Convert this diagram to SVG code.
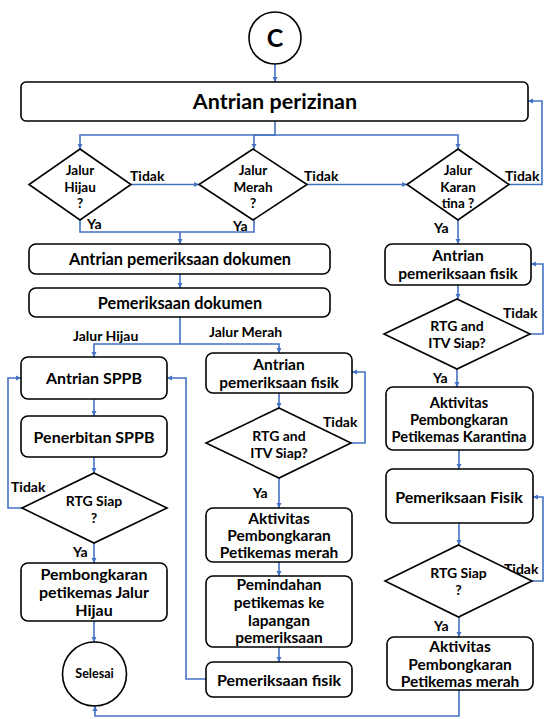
<svg xmlns="http://www.w3.org/2000/svg" width="544" height="719" viewBox="0 0 544 719">
<defs>
<marker id="ah" markerUnits="userSpaceOnUse" markerWidth="6" markerHeight="6" refX="5" refY="3" orient="auto">
<path d="M0,0.5 L5,3 L0,5.5 Z" fill="#4472C4"/>
</marker>
<style>
.n{fill:#fff;stroke:#000;stroke-width:1.6}
.t{font-family:Lato,"Liberation Sans",sans-serif;font-weight:bold;fill:#000;text-anchor:middle}
.l{font-family:Lato,"Liberation Sans",sans-serif;font-weight:bold;fill:#000;font-size:14px}
.c{fill:none;stroke:#4472C4;stroke-width:1.6;marker-end:url(#ah)}
.c2{fill:none;stroke:#4472C4;stroke-width:1.6}
</style>
</defs>
<rect width="544" height="719" fill="#fff"/>

<g id="connectors">
<path class="c" d="M275,64 V82"/>
<path class="c" d="M275,121 V135 H80 V149"/>
<path class="c" d="M275,135 H254 V149"/>
<path class="c" d="M275,135 H458 V149"/>
<path class="c" d="M131,184.5 H199"/>
<path class="c" d="M307,184.5 H407"/>
<path class="c" d="M509,184.5 H542 V101 H528"/>
<path class="c" d="M80,220 V232 H180 V244"/>
<path class="c2" d="M254,220 V232 H180"/>
<path class="c" d="M458,220 V244"/>
<path class="c" d="M180,274 V288"/>
<path class="c" d="M180,317 V344 H94 V357"/>
<path class="c" d="M180,344 H279 V353"/>
<path class="c" d="M458,285 V299"/>
<path class="c" d="M530,334 H543 V264 H531"/>
<path class="c" d="M457,369 V387"/>
<path class="c" d="M459,450 V469"/>
<path class="c" d="M459,523 V545"/>
<path class="c" d="M532,581 H543 V497 H533"/>
<path class="c" d="M459,617 V637"/>
<path class="c" d="M459,690 V716 H95 V706"/>
<path class="c" d="M279,393 V408"/>
<path class="c" d="M351,443 H365 V372 H352"/>
<path class="c" d="M279,478 V508"/>
<path class="c" d="M279,562 V576"/>
<path class="c" d="M279,647 V662"/>
<path class="c" d="M206,679 H186 V378 H167"/>
<path class="c" d="M94,399 V416"/>
<path class="c" d="M94,457 V473"/>
<path class="c" d="M22,508 H8 V378 H21"/>
<path class="c" d="M94,543 V563"/>
<path class="c" d="M94,621 V642"/>
<text class="l" x="130" y="181">Tidak</text>
<text class="l" x="304" y="181">Tidak</text>
<text class="l" x="505" y="181">Tidak</text>
<text class="l" x="87" y="229">Ya</text>
<text class="l" x="233" y="231">Ya</text>
<text class="l" x="434" y="233">Ya</text>
<text class="l" x="73" y="341">Jalur Hijau</text>
<text class="l" x="209" y="337">Jalur Merah</text>
<text class="l" x="503" y="318">Tidak</text>
<text class="l" x="433" y="383">Ya</text>
<text class="l" x="504" y="574">Tidak</text>
<text class="l" x="434" y="631">Ya</text>
<text class="l" x="323" y="427">Tidak</text>
<text class="l" x="253" y="498">Ya</text>
<text class="l" x="11" y="492">Tidak</text>
<text class="l" x="73" y="557">Ya</text>
</g>

<g id="start">
<circle class="n" cx="275" cy="38" r="26"/>
<text class="t" x="275" y="47" font-size="25">C</text>
</g>
<g id="antrian-perizinan">
<rect class="n" x="21" y="82" width="507" height="39" rx="5"/>
<text class="t" x="275" y="109" font-size="21.5">Antrian perizinan</text>
</g>
<g id="jalur-hijau">
<polygon class="n" points="80,149 131,184.5 80,220 29,184.5"/>
<text class="t" x="80" y="175" font-size="13.5">Jalur</text>
<text class="t" x="80" y="191.5" font-size="13.5">Hijau</text>
<text class="t" x="80" y="208" font-size="13.5">?</text>
</g>
<g id="jalur-merah">
<polygon class="n" points="253,149 307,184.5 253,220 199,184.5"/>
<text class="t" x="253" y="175" font-size="13.5">Jalur</text>
<text class="t" x="253" y="191.5" font-size="13.5">Merah</text>
<text class="t" x="253" y="208" font-size="13.5">?</text>
</g>
<g id="jalur-karantina">
<polygon class="n" points="458,149 509,184.5 458,220 407,184.5"/>
<text class="t" x="458" y="175" font-size="13.5">Jalur</text>
<text class="t" x="458" y="191.5" font-size="13.5">Karan</text>
<text class="t" x="458" y="208" font-size="13.5">tina ?</text>
</g>
<g id="antrian-dokumen">
<rect class="n" x="29" y="244" width="301" height="30" rx="7"/>
<text class="t" x="180" y="264.5" font-size="16.3">Antrian pemeriksaan dokumen</text>
</g>
<g id="pemeriksaan-dokumen">
<rect class="n" x="29" y="288" width="301" height="29" rx="7"/>
<text class="t" x="180" y="308.5" font-size="16.3">Pemeriksaan dokumen</text>
</g>

<g id="antrian-fisik-kanan">
<rect class="n" x="385" y="244" width="146" height="41" rx="7"/>
<text class="t" x="458" y="261" font-size="15.5">Antrian</text>
<text class="t" x="458" y="279" font-size="15.5">pemeriksaan fisik</text>
</g>
<g id="rtg-itv-kanan">
<polygon class="n" points="457,299 530,334 457,369 384,334"/>
<text class="t" x="457" y="331" font-size="14">RTG and</text>
<text class="t" x="457" y="348" font-size="14">ITV Siap?</text>
</g>
<g id="aktivitas-karantina">
<rect class="n" x="386" y="387" width="147" height="63" rx="7"/>
<text class="t" x="459" y="408" font-size="14.7">Aktivitas</text>
<text class="t" x="459" y="425" font-size="14.7">Pembongkaran</text>
<text class="t" x="459" y="442" font-size="14.7">Petikemas Karantina</text>
</g>
<g id="pemeriksaan-fisik-kanan">
<rect class="n" x="386" y="469" width="147" height="54" rx="7"/>
<text class="t" x="459" y="502.5" font-size="16">Pemeriksaan Fisik</text>
</g>
<g id="rtg-siap-kanan">
<polygon class="n" points="458.5,545 532,581 458.5,617 385,581"/>
<text class="t" x="458.5" y="578" font-size="14">RTG Siap</text>
<text class="t" x="458.5" y="595" font-size="14">?</text>
</g>
<g id="aktivitas-merah-kanan">
<rect class="n" x="387" y="637" width="146" height="53" rx="7"/>
<text class="t" x="460" y="652" font-size="15.5">Aktivitas</text>
<text class="t" x="460" y="670" font-size="15.5">Pembongkaran</text>
<text class="t" x="460" y="687" font-size="15.5">Petikemas merah</text>
</g>

<g id="antrian-fisik-tengah">
<rect class="n" x="206" y="353" width="146" height="40" rx="7"/>
<text class="t" x="279" y="370" font-size="15.5">Antrian</text>
<text class="t" x="279" y="387.5" font-size="15.5">pemeriksaan fisik</text>
</g>
<g id="rtg-itv-tengah">
<polygon class="n" points="279,408 351,443 279,478 206,443"/>
<text class="t" x="279" y="441" font-size="14">RTG and</text>
<text class="t" x="279" y="458" font-size="14">ITV Siap?</text>
</g>
<g id="aktivitas-merah-tengah">
<rect class="n" x="206" y="508" width="146" height="54" rx="7"/>
<text class="t" x="279" y="524" font-size="15.5">Aktivitas</text>
<text class="t" x="279" y="541" font-size="15.5">Pembongkaran</text>
<text class="t" x="279" y="558" font-size="15.5">Petikemas merah</text>
</g>
<g id="pemindahan">
<rect class="n" x="206" y="576" width="146" height="71" rx="7"/>
<text class="t" x="279" y="590" font-size="15.5">Pemindahan</text>
<text class="t" x="279" y="608" font-size="15.5">petikemas ke</text>
<text class="t" x="279" y="626" font-size="15.5">lapangan</text>
<text class="t" x="279" y="643" font-size="15.5">pemeriksaan</text>
</g>
<g id="pemeriksaan-fisik-tengah">
<rect class="n" x="206" y="662" width="146" height="35" rx="7"/>
<text class="t" x="279" y="685.5" font-size="16">Pemeriksaan fisik</text>
</g>

<g id="antrian-sppb">
<rect class="n" x="21" y="357" width="146" height="42" rx="7"/>
<text class="t" x="94" y="383.5" font-size="16">Antrian SPPB</text>
</g>
<g id="penerbitan-sppb">
<rect class="n" x="21" y="416" width="146" height="41" rx="7"/>
<text class="t" x="94" y="442.5" font-size="16">Penerbitan SPPB</text>
</g>
<g id="rtg-siap-kiri">
<polygon class="n" points="94,473 167,508 94,543 22,508"/>
<text class="t" x="94" y="506" font-size="14">RTG Siap</text>
<text class="t" x="94" y="523" font-size="14">?</text>
</g>
<g id="pembongkaran-hijau">
<rect class="n" x="21" y="563" width="146" height="58" rx="7"/>
<text class="t" x="94" y="580" font-size="16">Pembongkaran</text>
<text class="t" x="94" y="598" font-size="16">petikemas Jalur</text>
<text class="t" x="94" y="616" font-size="16">Hijau</text>
</g>
<g id="selesai">
<circle class="n" cx="94.5" cy="674" r="32"/>
<text class="t" x="94.5" y="678" font-size="12.5">Selesai</text>
</g>
</svg>
